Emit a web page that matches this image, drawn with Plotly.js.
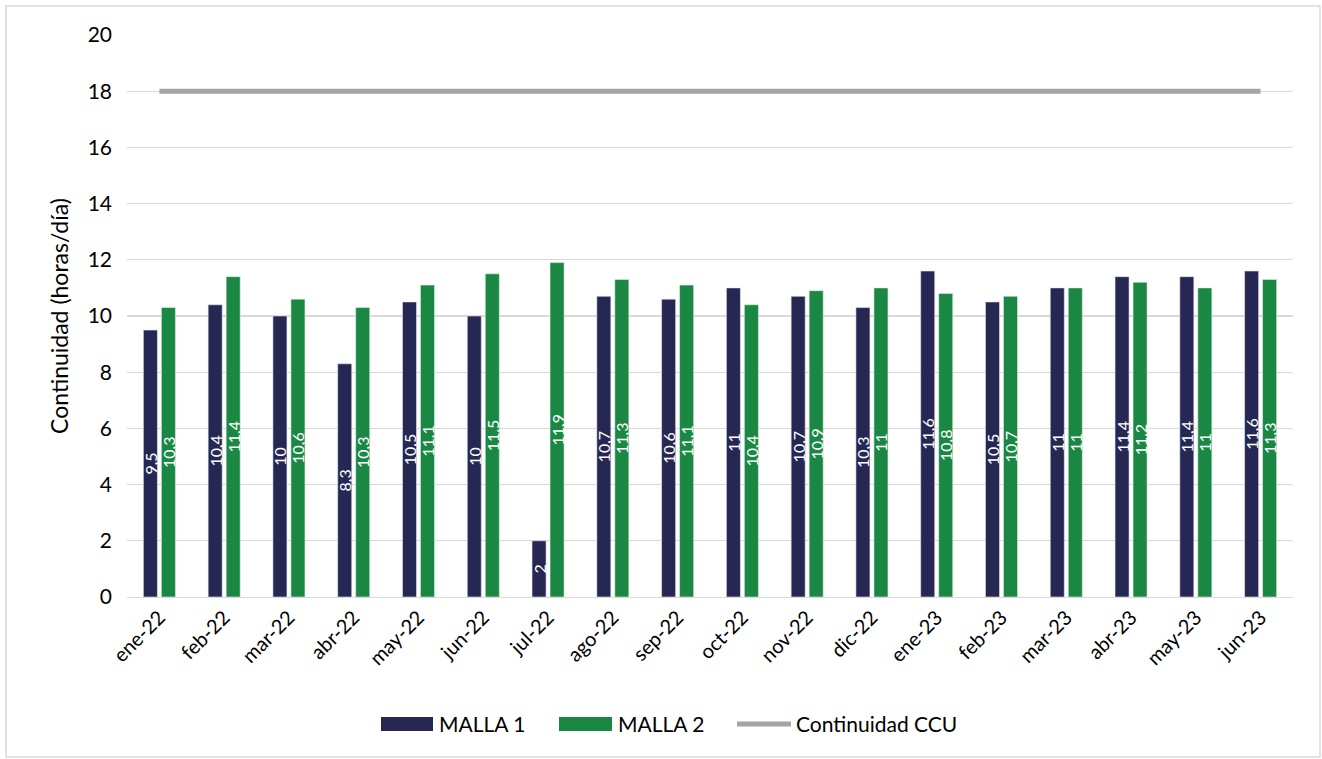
<!DOCTYPE html>
<html>
<head>
<meta charset="utf-8">
<script src="https://cdn.plot.ly/plotly-3.0.1.min.js"></script>
<style>
html,body{margin:0;padding:0;background:#fff;}
#chart{width:1322px;height:759px;}
</style>
</head>
<body>
<div id="chart"></div>
<script>
const categories = ["ene-22","feb-22","mar-22","abr-22","may-22","jun-22","jul-22","ago-22","sep-22","oct-22","nov-22","dic-22","ene-23","feb-23","mar-23","abr-23","may-23","jun-23"];
const malla1 = [9.5,10.4,10,8.3,10.5,10,2,10.7,10.6,11,10.7,10.3,11.6,10.5,11,11.4,11.4,11.6];
const malla2 = [10.3,11.4,10.6,10.3,11.1,11.5,11.9,11.3,11.1,10.4,10.9,11,10.8,10.7,11,11.2,11,11.3];
const continuidadCCU = [18,18,18,18,18,18,18,18,18,18,18,18,18,18,18,18,18,18];
const seriesNames = ["MALLA 1", "MALLA 2", "Continuidad CCU"];
const seriesColors = ["#262853", "#1a8742", "#a5a5a5"];

const fmt = v => String(v).replace('.', ',');
const FONT = "Lato, 'Open Sans', sans-serif";

// pixel -> paper helpers (plot area: x 127..1293, y 35..597)
const px = p => (p - 127) / 1166;
const py = p => (597 - p) / 562;

const traces = [
  {
    type: 'bar', name: seriesNames[0], x: categories, y: malla1,
    text: malla1.map(fmt), textposition: 'inside', insidetextanchor: 'middle',
    textangle: -90, constraintext: 'none',
    textfont: {color: '#ffffff', size: 16, family: FONT},
    marker: {color: seriesColors[0], line: {color: '#e8e8ef', width: 0.6}},
    showlegend: false
  },
  {
    type: 'bar', name: seriesNames[1], x: categories, y: malla2,
    text: malla2.map(fmt), textposition: 'inside', insidetextanchor: 'middle',
    textangle: -90, constraintext: 'none',
    textfont: {color: '#ffffff', size: 16, family: FONT},
    marker: {color: seriesColors[1], line: {color: '#e0efe5', width: 0.6}},
    showlegend: false
  },
  {
    type: 'scatter', mode: 'lines', name: seriesNames[2], x: categories, y: continuidadCCU,
    line: {color: seriesColors[2], width: 5}, showlegend: false
  }
];

const legendItems = [
  {kind: 'rect', x0: 381, x1: 433, tx: 437},
  {kind: 'rect', x0: 559, x1: 612, tx: 616},
  {kind: 'line', x0: 737, x1: 791, tx: 794}
];
const legendY = 724;

const shapes = [{
  type: 'rect', xref: 'paper', yref: 'paper',
  x0: (6-127)/1166, x1: (1320-127)/1166, y0: (597-757)/562, y1: (597-6)/562,
  line: {color: '#d9d9d9', width: 1.5}, fillcolor: 'rgba(0,0,0,0)', layer: 'below'
}];
const annotations = [];
legendItems.forEach((it, i) => {
  if (it.kind === 'rect') {
    shapes.push({type: 'rect', xref: 'paper', yref: 'paper',
      x0: px(it.x0), x1: px(it.x1), y0: py(legendY + 7), y1: py(legendY - 7),
      fillcolor: seriesColors[i], line: {width: 0}});
  } else {
    shapes.push({type: 'line', xref: 'paper', yref: 'paper',
      x0: px(it.x0), x1: px(it.x1), y0: py(legendY), y1: py(legendY),
      line: {color: seriesColors[i], width: 5}});
  }
  annotations.push({xref: 'paper', yref: 'paper', x: px(it.tx), y: py(legendY),
    xanchor: 'left', yanchor: 'middle', showarrow: false, text: seriesNames[i],
    font: {size: 21, family: FONT, color: '#000'}});
});

const layout = {
  width: 1322, height: 759,
  margin: {l: 127, r: 29, t: 35, b: 162},
  paper_bgcolor: '#ffffff', plot_bgcolor: '#ffffff',
  font: {family: FONT, color: '#000000', size: 15},
  barmode: 'group', bargap: 0.444, bargroupgap: 0.22,
  showlegend: false,
  xaxis: {
    type: 'category', tickangle: -45, tickfont: {size: 20, family: FONT},
    showgrid: false, showline: true, linecolor: '#d9d9d9', linewidth: 1,
    ticks: '', zeroline: false
  },
  yaxis: {
    range: [0, 20], dtick: 2, tick0: 0, showgrid: true, gridcolor: '#d9d9d9', gridwidth: 1.3,
    zeroline: false, showline: false, ticks: '', ticklabelstandoff: 14,
    tickfont: {size: 21, family: FONT},
    title: {text: 'Continuidad (horas/día)', font: {size: 23, family: FONT}, standoff: 12}
  },
  shapes: shapes,
  annotations: annotations
};

Plotly.newPlot('chart', traces, layout, {displayModeBar: false, staticPlot: true});
</script>
</body>
</html>
